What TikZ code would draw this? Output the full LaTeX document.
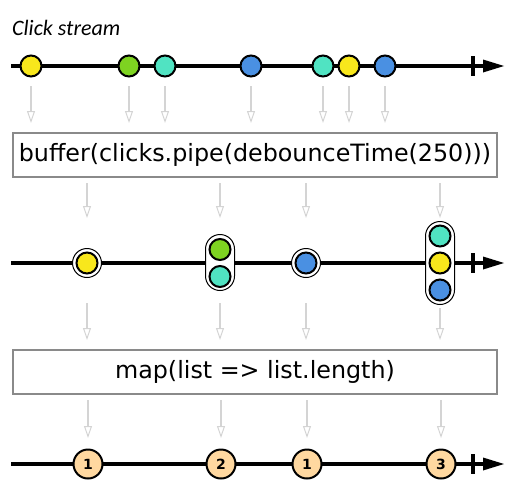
\documentclass[tikz,border=0pt]{standalone}
\usepackage{fontspec}
\setmainfont{DejaVu Sans}
\newfontfamily\clickfont{Carlito}
\usetikzlibrary{arrows.meta}
\definecolor{cyellow}{HTML}{F8E71C}
\definecolor{cgreen}{HTML}{7ED321}
\definecolor{cteal}{HTML}{50E3C2}
\definecolor{cblue}{HTML}{4A90E2}
\definecolor{cpeach}{HTML}{FFD8A0}
\definecolor{flowgray}{HTML}{D4D4D4}
\definecolor{boxgray}{HTML}{8A8A8A}
\begin{document}
\begin{tikzpicture}[x=1pt,y=-1pt,
  marble/.style={circle, draw=black, line width=2pt, minimum size=21pt, inner sep=0pt},
  ringmarble/.style={circle, draw=black, line width=1pt, fill=white, minimum size=29pt, inner sep=0pt},
  nummarble/.style={circle, draw=black, line width=2pt, fill=cpeach, minimum size=29pt, inner sep=0pt, font=\bfseries\fontsize{14}{14}\selectfont},
  timeline/.style={line width=4pt, black},
  flow/.style={draw=flowgray, line width=1.4pt, -{Triangle[open, length=12pt, width=8pt, line width=1pt]}},
  opbox/.style={draw=boxgray, line width=1.2pt, fill=white, minimum width=484pt, minimum height=44pt, inner sep=0pt, font=\fontsize{23.8}{26}\selectfont},
  capsule/.style={draw=black, line width=1pt, fill=white, rounded corners=14.5pt}
]
\useasboundingbox (0,0) rectangle (521,495);

% title
\node[anchor=west, inner sep=0pt, font=\clickfont\itshape\fontsize{22}{24}\selectfont] (title) at (12,28) {Click stream};

% timeline helper
\newcommand{\mytimeline}[1]{%
  \coordinate (ls#1) at (11,#1);
  \coordinate (le#1) at (490,#1);
  \draw[timeline] (ls#1) -- (le#1);
  \draw[line width=4pt] (473,#1-10) -- (473,#1+10);
  \fill (483,#1-6.5) -- (504,#1) -- (483,#1+6.5) -- cycle;
}

% ---- top timeline
\mytimeline{66}
\node[marble, fill=cyellow] (c1) at (31,66) {};
\node[marble, fill=cgreen]  (c2) at (129,66) {};
\node[marble, fill=cteal]   (c3) at (165,66) {};
\node[marble, fill=cblue]   (c4) at (251,66) {};
\node[marble, fill=cteal]   (c5) at (323,66) {};
\node[marble, fill=cyellow] (c6) at (349,66) {};
\node[marble, fill=cblue]   (c7) at (385,66) {};

% ---- buffer box
\node[opbox] (buf) at (255,155) {buffer(clicks.pipe(debounceTime(250)))};

\foreach \n/\x in {1/31,2/129,3/165,4/251,5/323,6/349,7/385}{
  \coordinate (fa\n) at (\x,86);
  \coordinate (fb\n) at (\x,123);
  \draw[flow] (fa\n) -- (fb\n);
}

% ---- middle timeline
\mytimeline{263}
\node[ringmarble] (r1) at (87,263) {};
\node[marble, fill=cyellow] (m1) at (87,263) {};
\draw[capsule] (205.5,234.5) rectangle (234.5,290.5);
\node[marble, fill=cgreen] (m2a) at (220,249.5) {};
\node[marble, fill=cteal]  (m2b) at (220,276.5) {};
\node[ringmarble] (r3) at (306,263) {};
\node[marble, fill=cblue] (m3) at (306,263) {};
\draw[capsule] (425.5,221.5) rectangle (454.5,304.5);
\node[marble, fill=cteal]   (m4a) at (440,236) {};
\node[marble, fill=cyellow] (m4b) at (440,263) {};
\node[marble, fill=cblue]   (m4c) at (440,290) {};

\foreach \n/\x in {1/87,2/220,3/306,4/440}{
  \coordinate (ga\n) at (\x,183);
  \coordinate (gb\n) at (\x,218);
  \draw[flow] (ga\n) -- (gb\n);
}

% ---- map box
\node[opbox] (map) at (255,372) {map(list => list.length)};

\foreach \n/\x/\s in {1/87/303,2/220/303,3/306/303,4/440/308}{
  \coordinate (ha\n) at (\x,\s);
  \coordinate (hb\n) at (\x,340);
  \draw[flow] (ha\n) -- (hb\n);
}

\foreach \n/\x in {1/88,2/221,3/307,4/441}{
  \coordinate (ka\n) at (\x,400);
  \coordinate (kb\n) at (\x,438);
  \draw[flow] (ka\n) -- (kb\n);
}

% ---- bottom timeline
\mytimeline{464}
\node[nummarble] (n1) at (88,464) {1};
\node[nummarble] (n2) at (221,464) {2};
\node[nummarble] (n3) at (307,464) {1};
\node[nummarble] (n4) at (441,464) {3};
\end{tikzpicture}
\end{document}
